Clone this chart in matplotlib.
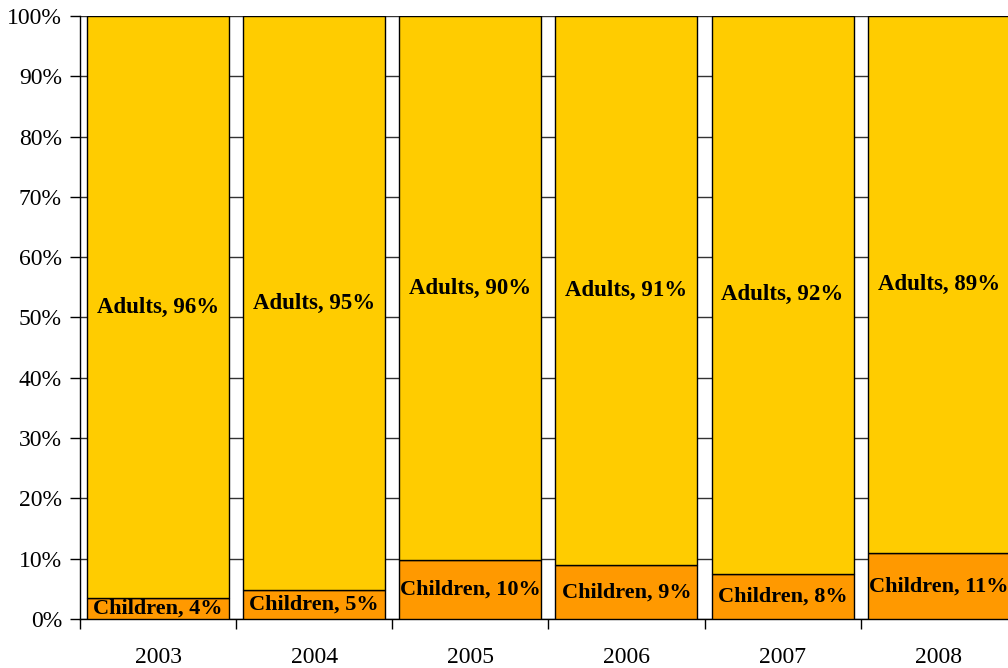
import numpy as np
import matplotlib.pyplot as plt

# data (share of total, %)
years = ["2003", "2004", "2005", "2006", "2007", "2008"]
children = [3.4, 4.8, 9.7, 8.9, 7.5, 10.9]
adults = [96.6, 95.2, 90.3, 91.1, 92.5, 89.1]
children_lbl = ["Children, 4%", "Children, 5%", "Children, 10%", "Children, 9%", "Children, 8%", "Children, 11%"]
adults_lbl = ["Adults, 96%", "Adults, 95%", "Adults, 90%", "Adults, 91%", "Adults, 92%", "Adults, 89%"]

plt.rcParams['font.family'] = ['Liberation Serif', 'DejaVu Serif']

fig = plt.figure(figsize=(10.08, 6.68), dpi=100)
ax = fig.add_axes([0.0794, 0.0734, 0.9293, 0.9027])

x = np.arange(len(years))
w = 0.91
b1 = ax.bar(x, children, w, color="#FF9900", edgecolor="black", linewidth=1.0, zorder=3)
b2 = ax.bar(x, adults, w, bottom=children, color="#FFCC00", edgecolor="black", linewidth=1.0, zorder=3)

for i in range(len(years)):
    ax.text(x[i], children[i] / 2, children_lbl[i], ha="center", va="center",
            fontsize=16, fontweight="bold", zorder=4)
    ax.text(x[i], children[i] + adults[i] / 2, adults_lbl[i], ha="center", va="center",
            fontsize=16.5, fontweight="bold", zorder=4)

ax.set_xlim(-0.5, len(years) - 0.5)
ax.set_ylim(0, 100)
ax.set_yticks(np.arange(0, 101, 10))
ax.set_yticklabels([f"{v}%" for v in range(0, 101, 10)], fontsize=17)
ax.yaxis.grid(True, color="#333333", linewidth=1.0, zorder=0)
ax.set_axisbelow(True)

# category boundaries as major ticks, year labels on minor ticks
ax.set_xticks(np.arange(-0.5, len(years), 1.0))
ax.set_xticklabels([])
ax.set_xticks(x, minor=True)
ax.set_xticklabels(years, minor=True, fontsize=17)
ax.tick_params(axis="x", which="major", length=7, width=1, direction="out")
ax.tick_params(axis="x", which="minor", length=0, pad=20)
ax.tick_params(axis="y", length=7, width=1, direction="out", pad=6)

ax.spines["top"].set_visible(False)
ax.spines["right"].set_visible(False)
ax.spines["left"].set_linewidth(1.0)
ax.spines["bottom"].set_linewidth(1.0)

fig.savefig("out.png", dpi=100)
